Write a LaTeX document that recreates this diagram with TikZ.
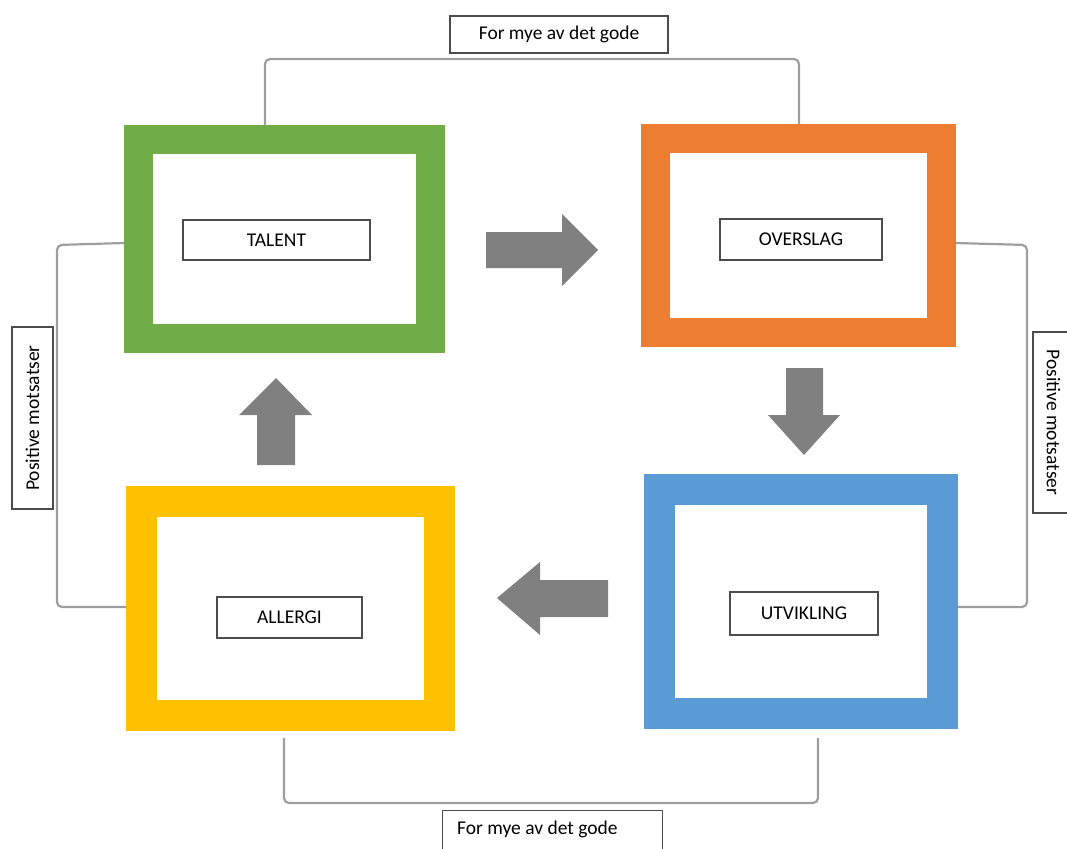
\documentclass[tikz,border=0pt]{standalone}
\usepackage{fontspec}
\setmainfont{Carlito}
\begin{document}
\begin{tikzpicture}[x=1pt,y=-1pt,
  frame/.style={draw=#1, line width=29pt, inner sep=0pt},
  lbl/.style={draw=black!70, line width=1.4pt, fill=white, inner sep=0pt, font=\fontsize{19.5}{23}\selectfont},
  brk/.style={draw=black!38, line width=2.2pt, rounded corners=5pt},
  arr/.style={fill=black!50, draw=none}]
\useasboundingbox (0,0) rectangle (1067,848);
\definecolor{cgreen}{HTML}{70AD47}
\definecolor{corange}{HTML}{ED7D31}
\definecolor{cblue}{HTML}{5B9BD5}
\definecolor{cyellow}{HTML}{FFC000}
% frames
\node[frame=cgreen, minimum width=292pt, minimum height=199pt] (talent) at (284.5,239) {};
\node[frame=corange, minimum width=286pt, minimum height=194pt] (overslag) at (798.5,235) {};
\node[frame=cblue, line width=31pt, minimum width=283pt, minimum height=224pt] (utvikling) at (801,601.5) {};
\node[frame=cyellow, line width=31pt, minimum width=298pt, minimum height=214pt] (allergi) at (290.5,608.5) {};
% labels
\node[lbl, minimum width=187pt, minimum height=40pt] (lt) at (276.5,240) {TALENT};
\node[lbl, minimum width=162pt, minimum height=41pt] (lo) at (801,239.5) {OVERSLAG};
\node[lbl, minimum width=148pt, minimum height=43pt] (lu) at (804,613.5) {UTVIKLING};
\node[lbl, minimum width=145pt, minimum height=41pt] (la) at (289.5,617.5) {ALLERGI};
% brackets
\coordinate (t1) at (265,125); \coordinate (t2) at (799,124);
\draw[brk] (t1) -- (265,59) -- (799,59) -- (t2);
\coordinate (l1) at (124,243); \coordinate (l2) at (126,607);
\draw[brk] (l1) -- (57,245) -- (57,607) -- (l2);
\coordinate (r1) at (956,243); \coordinate (r2) at (958,607);
\draw[brk] (r1) -- (1027,245) -- (1027,607) -- (r2);
\coordinate (b1) at (284,738); \coordinate (b2) at (818,738);
\draw[brk] (b1) -- (284,803) -- (818,803) -- (b2);
% bracket labels
\node[lbl, minimum width=218pt, minimum height=37pt] (top) at (559,34.5) {For mye av det gode};
\node[lbl, minimum width=220pt, minimum height=50pt, anchor=north west] (bot) at (442,810) {};
\node[font=\fontsize{19.5}{23}\selectfont, anchor=west, inner sep=0pt] (bottxt) at (457,829) {For mye av det gode};
\node[lbl, rotate=90, minimum width=182pt, minimum height=41pt] (left) at (32.5,418) {Positive motsatser};
\node[lbl, rotate=-90, minimum width=181pt, minimum height=41pt] (right) at (1053.5,422.5) {Positive motsatser};
% arrows
\fill[arr] (486,232) -- (562,232) -- (562,214) -- (598,250) -- (562,286) -- (562,268) -- (486,268) -- cycle;
\fill[arr] (786,368) -- (823,368) -- (823,415) -- (840,415) -- (804,455) -- (768,415) -- (786,415) -- cycle;
\fill[arr] (608,580) -- (540,580) -- (540,562) -- (497,598) -- (540,635) -- (540,617) -- (608,617) -- cycle;
\fill[arr] (257,465) -- (257,415) -- (239,415) -- (276,378) -- (312,415) -- (295,415) -- (295,465) -- cycle;
\end{tikzpicture}
\end{document}
